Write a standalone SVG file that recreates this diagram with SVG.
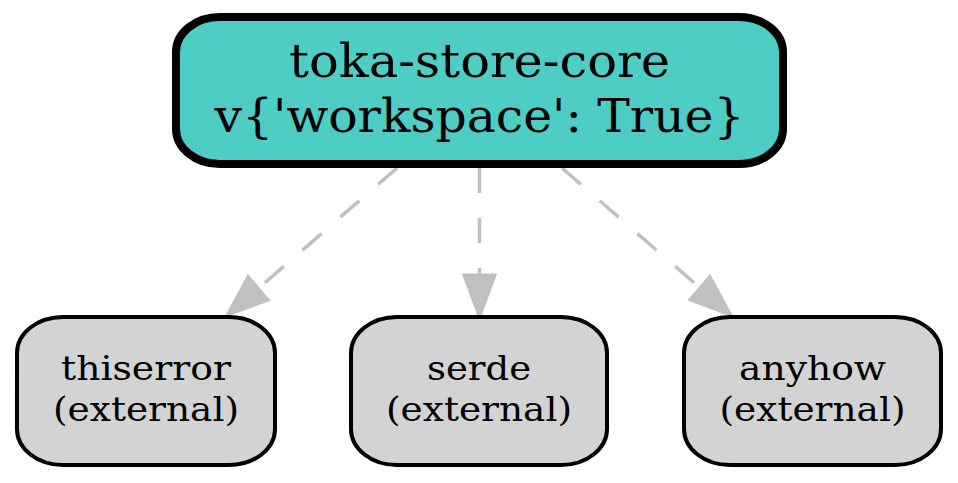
<svg xmlns="http://www.w3.org/2000/svg" width="958" height="483" viewBox="0 0 958 483">
<style>
.box{stroke:#000;}
.top{fill:#4ecdc4;stroke-width:8;}
.ext{fill:#d3d3d3;stroke-width:4;}
text{font-family:"DejaVu Serif","Liberation Serif",serif;fill:#000;text-anchor:middle;}
.t1{font-size:47px;}
.t2{font-size:34px;}
.edge{stroke:#c0c0c0;stroke-width:3.5;stroke-dasharray:25 25;fill:none;}
.head{fill:#c0c0c0;stroke:#c0c0c0;stroke-width:1;}
</style>
<rect width="958" height="483" fill="#fff"/>
<g id="edges">
<path class="edge" d="M397,168 L260,287"/>
<polygon class="head" points="225,317 248,274.6 270,300.4"/>
<path class="edge" d="M479.5,168 L479.5,274"/>
<polygon class="head" points="479.5,320 462.5,274 496.5,274"/>
<path class="edge" d="M562,168 L699,287"/>
<polygon class="head" points="733,317 688,300.2 710,274.6"/>
</g>
<g id="node-toka-store-core">
<rect class="box top" x="176" y="17" width="607" height="147" rx="44" ry="35"/>
<text class="t1" x="479.5" y="77" textLength="381" lengthAdjust="spacingAndGlyphs">toka-store-core</text>
<text class="t1" x="479.5" y="132" textLength="530" lengthAdjust="spacingAndGlyphs">v{'workspace': True}</text>
</g>
<g id="node-thiserror">
<rect class="box ext" x="17" y="317" width="258" height="148" rx="46" ry="36"/>
<text class="t2" x="146" y="380" textLength="170" lengthAdjust="spacingAndGlyphs">thiserror</text>
<text class="t2" x="146" y="421" textLength="186" lengthAdjust="spacingAndGlyphs">(external)</text>
</g>
<g id="node-serde">
<rect class="box ext" x="351" y="317" width="256" height="148" rx="46" ry="36"/>
<text class="t2" x="479" y="380" textLength="104" lengthAdjust="spacingAndGlyphs">serde</text>
<text class="t2" x="479" y="421" textLength="186" lengthAdjust="spacingAndGlyphs">(external)</text>
</g>
<g id="node-anyhow">
<rect class="box ext" x="684" y="317" width="257" height="148" rx="46" ry="36"/>
<text class="t2" x="812.5" y="380" textLength="147" lengthAdjust="spacingAndGlyphs">anyhow</text>
<text class="t2" x="812.5" y="421" textLength="186" lengthAdjust="spacingAndGlyphs">(external)</text>
</g>
</svg>
